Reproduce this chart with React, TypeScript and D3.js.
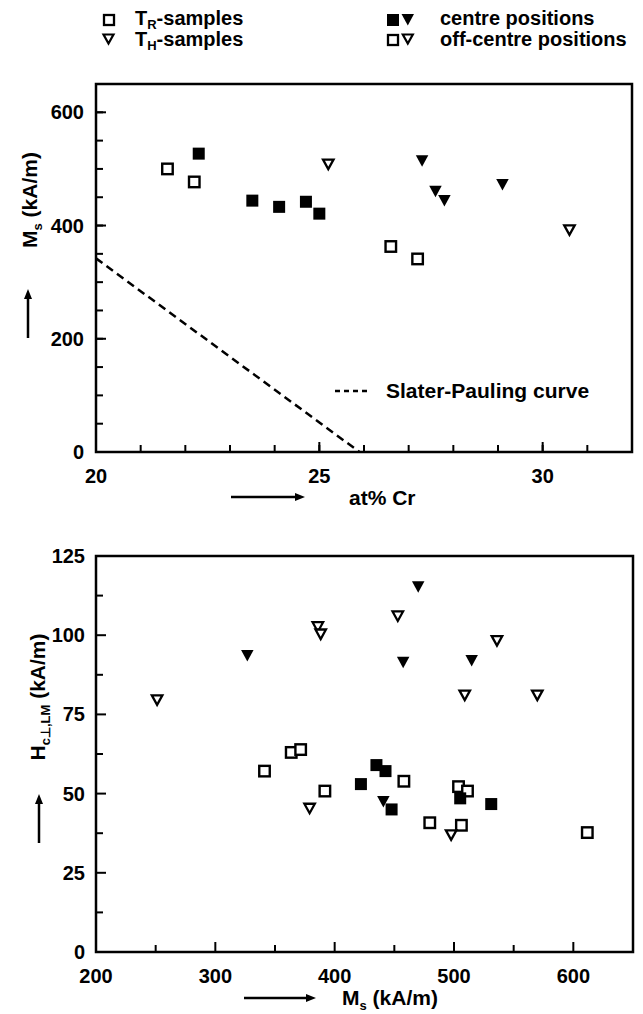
import React from 'react';
import * as d3 from 'd3';

// top panel: Ms against at% Cr
const msOffSquares: [number, number][] = [[21.6, 500], [22.2, 477], [26.6, 363], [27.2, 341]];
const msCentreSquares: [number, number][] = [[22.3, 527], [23.5, 444], [24.1, 433], [24.7, 442], [25.0, 421]];
const msOffTriangles: [number, number][] = [[25.2, 508], [30.6, 392]];
const msCentreTriangles: [number, number][] = [[27.3, 514], [27.6, 460], [27.8, 444], [29.1, 472]];
const slaterPauling: [number, number][] = [[20, 342], [25.9, 0]];

// bottom panel: Hc against Ms
const hcOffSquares: [number, number][] = [
  [363.6, 63], [371.5, 63.9], [341.2, 57.1], [391.8, 50.8], [458, 53.9],
  [503.8, 52.2], [511.3, 50.8], [479.7, 40.8], [506.2, 40], [611.7, 37.7],
];
const hcCentreSquares: [number, number][] = [
  [422, 53], [435, 59], [442.6, 57.1], [447.7, 45], [505.2, 48.5], [531.2, 46.7],
];
const hcOffTriangles: [number, number][] = [
  [452.9, 106], [385.9, 102.6], [388.3, 100.3], [536, 98.2], [251.2, 79.5],
  [509, 81], [569.8, 81], [379, 45.3], [497.6, 36.9],
];
const hcCentreTriangles: [number, number][] = [
  [470, 115.2], [326.8, 93.5], [457.4, 91.4], [514.8, 91.9], [440.8, 47.4],
];

const topXTicks = [20, 25, 30];
const topXMinor = d3.range(21, 32, 1);
const topYTicks = [0, 200, 400, 600];
const topYMinor = d3.range(50, 650, 50);
const botXTicks = [200, 300, 400, 500, 600];
const botXMinor = d3.range(250, 650, 100);
const botYTicks = [0, 25, 50, 75, 100, 125];
const botYMinor = d3.range(12.5, 125, 25);

const FONT = '"Liberation Sans", Arial, Helvetica, sans-serif';
const INK = '#000';

type Scale = d3.ScaleLinear<number, number>;

function Markers({ pts, x, y, kind, filled }: { pts: [number, number][]; x: Scale; y: Scale; kind: 'sq' | 'tri'; filled: boolean }) {
  return (
    <g>
      {pts.map((p, i) => {
        const cx = x(p[0]);
        const cy = y(p[1]);
        if (kind === 'sq') {
          const s = filled ? 12 : 10.5;
          return (
            <rect key={i} x={cx - s / 2} y={cy - s / 2} width={s} height={s}
              fill={filled ? INK : '#fff'} stroke={filled ? 'none' : INK} strokeWidth={2.4} />
          );
        }
        const w = filled ? 12.5 : 10.5;
        const h = filled ? 11.5 : 9.5;
        const d = `M${cx - w / 2},${cy - h / 2}L${cx + w / 2},${cy - h / 2}L${cx},${cy + h / 2}Z`;
        return <path key={i} d={d} fill={filled ? INK : '#fff'} stroke={filled ? 'none' : INK} strokeWidth={2.3} strokeLinejoin="miter" />;
      })}
    </g>
  );
}

function Frame({ x, y, xTicks, xMinor, yTicks, yMinor, yLabelEnd, xLabelBase }: {
  x: Scale; y: Scale; xTicks: number[]; xMinor: number[]; yTicks: number[]; yMinor: number[];
  yLabelEnd: number; xLabelBase: number;
}) {
  const [x0, x1] = x.range();
  const [y0, y1] = y.range();
  return (
    <g>
      <rect x={x0} y={y1} width={x1 - x0} height={y0 - y1} fill="none" stroke={INK} strokeWidth={2.5} />
      {xTicks.map(t => <line key={'xm' + t} x1={x(t)} x2={x(t)} y1={y0} y2={y0 - 10} stroke={INK} strokeWidth={2} />)}
      {xMinor.map(t => <line key={'xn' + t} x1={x(t)} x2={x(t)} y1={y0} y2={y0 - 7} stroke={INK} strokeWidth={2} />)}
      {yTicks.map(t => <line key={'ym' + t} x1={x0} x2={x0 + 10} y1={y(t)} y2={y(t)} stroke={INK} strokeWidth={2} />)}
      {yMinor.map(t => <line key={'yn' + t} x1={x0} x2={x0 + 7} y1={y(t)} y2={y(t)} stroke={INK} strokeWidth={2} />)}
      {xTicks.map(t => (
        <text key={'xl' + t} x={x(t)} y={xLabelBase} textAnchor="middle" fontSize={20} fontWeight="bold">{t}</text>
      ))}
      {yTicks.map(t => (
        <text key={'yl' + t} x={yLabelEnd} y={y(t) + 7} textAnchor="end" fontSize={20} fontWeight="bold">{t}</text>
      ))}
    </g>
  );
}

function Arrow({ x1, y1, x2, y2 }: { x1: number; y1: number; x2: number; y2: number }) {
  const ang = Math.atan2(y2 - y1, x2 - x1);
  const L = 10, Wd = 4;
  const bx = x2 - L * Math.cos(ang), by = y2 - L * Math.sin(ang);
  const px = -Math.sin(ang) * Wd, py = Math.cos(ang) * Wd;
  return (
    <g>
      <line x1={x1} y1={y1} x2={bx} y2={by} stroke={INK} strokeWidth={2.5} />
      <path d={`M${x2},${y2}L${bx + px},${by + py}L${bx - px},${by - py}Z`} fill={INK} />
    </g>
  );
}

export default function App() {
  const tx = d3.scaleLinear().domain([20, 32]).range([96, 632]);
  const ty = d3.scaleLinear().domain([0, 650]).range([452, 84]);
  const bx = d3.scaleLinear().domain([200, 650]).range([96, 633]);
  const by = d3.scaleLinear().domain([0, 125]).range([952, 556]);
  const sp = d3.line<[number, number]>().x(d => tx(d[0])).y(d => ty(d[1]));

  return (
    <div style={{ position: 'absolute', left: 0, top: 0 }}>
      <svg width={643} height={1014} style={{ display: 'block', background: '#fff', fontFamily: FONT, whiteSpace: 'pre' }}>
        {/* legend */}
        <g fontSize={20} fontWeight="bold">
          <rect x={104} y={15} width={10} height={10} fill="#fff" stroke={INK} strokeWidth={2.3} />
          <text x={135} y={25}>T<tspan fontSize={13} dy={4}>R</tspan><tspan dy={-4}>-samples</tspan></text>
          <path d="M103.5,34.5L113.5,34.5L108.5,43.5Z" fill="#fff" stroke={INK} strokeWidth={2.2} />
          <text x={135} y={46}>T<tspan fontSize={13} dy={4}>H</tspan><tspan dy={-4}>-samples</tspan></text>

          <rect x={387} y={14} width={12} height={12} fill={INK} />
          <path d="M401.5,14L414,14L407.8,25.5Z" fill={INK} />
          <text x={440} y={25}>centre  positions</text>
          <rect x={388} y={35} width={10} height={10} fill="#fff" stroke={INK} strokeWidth={2.3} />
          <path d="M402.8,34.5L412.8,34.5L407.8,43.5Z" fill="#fff" stroke={INK} strokeWidth={2.2} />
          <text x={440} y={46}>off-centre  positions</text>
        </g>

        {/* top panel */}
        <Frame x={tx} y={ty} xTicks={topXTicks} xMinor={topXMinor} yTicks={topYTicks} yMinor={topYMinor}
          yLabelEnd={84} xLabelBase={483} />
        <path d={sp(slaterPauling) || ''} fill="none" stroke={INK} strokeWidth={2.5} strokeDasharray="8,5" />
        <line x1={335} x2={371} y1={391} y2={391} stroke={INK} strokeWidth={2.5} strokeDasharray="5,4" />
        <text x={386} y={398} fontSize={21} fontWeight="bold">Slater-Pauling  curve</text>
        <Markers pts={msOffSquares} x={tx} y={ty} kind="sq" filled={false} />
        <Markers pts={msCentreSquares} x={tx} y={ty} kind="sq" filled />
        <Markers pts={msOffTriangles} x={tx} y={ty} kind="tri" filled={false} />
        <Markers pts={msCentreTriangles} x={tx} y={ty} kind="tri" filled />
        <text transform="translate(37,200) rotate(-90)" textAnchor="middle" fontSize={21} fontWeight="bold">
          M<tspan fontSize={13} dy={5}>s</tspan><tspan dy={-5}>   (kA/m)</tspan>
        </text>
        <Arrow x1={28} y1={338} x2={28} y2={289} />
        <Arrow x1={231} y1={497} x2={305} y2={497} />
        <text x={349} y={505} fontSize={21} fontWeight="bold">at%  Cr</text>

        {/* bottom panel */}
        <Frame x={bx} y={by} xTicks={botXTicks} xMinor={botXMinor} yTicks={botYTicks} yMinor={botYMinor}
          yLabelEnd={85} xLabelBase={983} />
        <Markers pts={hcOffSquares} x={bx} y={by} kind="sq" filled={false} />
        <Markers pts={hcCentreSquares} x={bx} y={by} kind="sq" filled />
        <Markers pts={hcOffTriangles} x={bx} y={by} kind="tri" filled={false} />
        <Markers pts={hcCentreTriangles} x={bx} y={by} kind="tri" filled />
        <text transform="translate(45,697) rotate(-90)" textAnchor="middle" fontSize={21} fontWeight="bold">
          H<tspan fontSize={13} dy={5}>c⊥,LM</tspan><tspan dy={-5}>   (kA/m)</tspan>
        </text>
        <Arrow x1={39} y1={843} x2={39} y2={794} />
        <Arrow x1={244} y1={998} x2={316} y2={998} />
        <text x={342} y={1005} fontSize={21} fontWeight="bold">
          M<tspan fontSize={13} dy={5}>s</tspan><tspan dy={-5}>   (kA/m)</tspan>
        </text>
      </svg>
    </div>
  );
}
